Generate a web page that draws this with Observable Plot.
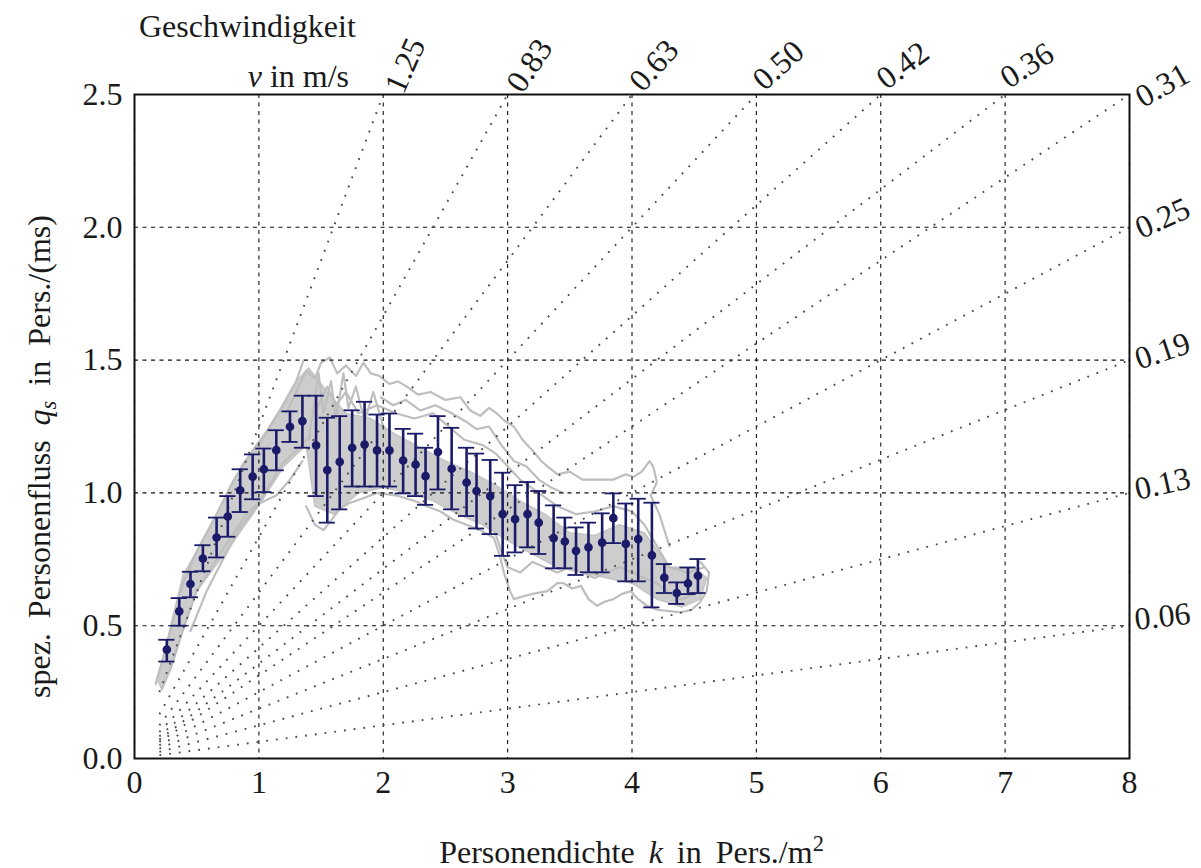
<!DOCTYPE html>
<html>
<head>
<meta charset="utf-8">
<script src="https://cdn.jsdelivr.net/npm/d3@7"></script>
<script src="https://cdn.jsdelivr.net/npm/@observablehq/plot@0.6"></script>
<style>
  html, body { margin: 0; padding: 0; background: #fff; }
  #chart svg { display: block; }
</style>
</head>
<body>
<div id="chart"></div>
<script>
// Binned means of specific flow with spread, per density class
const density = [0.26, 0.36, 0.45, 0.55, 0.66, 0.75, 0.85, 0.95, 1.04, 1.14, 1.25, 1.35, 1.46, 1.55, 1.65, 1.75, 1.85, 1.95, 2.05, 2.16, 2.26, 2.34, 2.44, 2.55, 2.67, 2.75, 2.86, 2.96, 3.06, 3.16, 3.25, 3.37, 3.46, 3.55, 3.65, 3.76, 3.85, 3.95, 4.05, 4.16, 4.26, 4.36, 4.45, 4.53];
const flowMean = [0.41, 0.554, 0.657, 0.753, 0.832, 0.911, 1.010, 1.061, 1.089, 1.161, 1.249, 1.270, 1.179, 1.086, 1.117, 1.170, 1.182, 1.160, 1.160, 1.122, 1.107, 1.063, 1.154, 1.091, 1.039, 1.007, 0.988, 0.920, 0.901, 0.920, 0.888, 0.830, 0.817, 0.782, 0.795, 0.813, 0.905, 0.808, 0.826, 0.765, 0.681, 0.623, 0.659, 0.688];
const flowHigh = [0.447, 0.604, 0.703, 0.803, 0.907, 0.988, 1.089, 1.145, 1.167, 1.236, 1.307, 1.366, 1.366, 1.283, 1.289, 1.311, 1.343, 1.295, 1.299, 1.241, 1.223, 1.170, 1.289, 1.245, 1.170, 1.148, 1.124, 1.076, 1.029, 1.041, 1.007, 0.953, 0.907, 0.870, 0.888, 0.923, 0.998, 0.960, 0.978, 0.963, 0.732, 0.663, 0.719, 0.751];
const flowLow = [0.365, 0.500, 0.607, 0.705, 0.757, 0.835, 0.928, 0.976, 1.003, 1.085, 1.192, 1.170, 0.988, 0.888, 0.938, 1.024, 1.024, 1.024, 1.024, 0.998, 0.988, 0.955, 1.013, 0.938, 0.913, 0.866, 0.845, 0.763, 0.776, 0.795, 0.770, 0.716, 0.716, 0.691, 0.701, 0.701, 0.811, 0.667, 0.667, 0.569, 0.623, 0.582, 0.619, 0.623];

// Individual measurement runs (k, q) shown as light grey traces
const denseCore = [[0.18,0.30],[0.25,0.42],[0.39,0.69],[0.55,0.82],[0.66,0.92],[0.87,1.11],[1.06,1.22],[1.20,1.33],[1.30,1.42],[1.40,1.47],[1.55,1.38],[1.70,1.30],[1.90,1.28],[2.10,1.22],[2.30,1.17],[2.50,1.12],[2.70,1.08],[2.90,1.03],[3.10,0.97],[3.30,0.92],[3.50,0.85],[3.70,0.84],[3.90,0.88],[4.10,0.85],[4.30,0.72],[4.50,0.72],[4.60,0.68],[4.55,0.60],[4.40,0.57],[4.20,0.60],[4.00,0.66],[3.80,0.68],[3.60,0.70],[3.40,0.72],[3.20,0.77],[3.00,0.82],[2.80,0.88],[2.60,0.92],[2.40,0.97],[2.20,1.00],[2.00,1.02],[1.80,1.00],[1.60,0.92],[1.45,0.95],[1.38,1.18],[1.20,1.10],[1.01,0.96],[0.77,0.80],[0.50,0.63],[0.30,0.36],[0.22,0.26]];
const traceUpper = [[1.22,1.30],[1.30,1.38],[1.38,1.46],[1.45,1.43],[1.50,1.49],[1.57,1.51],[1.63,1.45],[1.70,1.48],[1.78,1.44],[1.84,1.49],[1.90,1.45],[1.97,1.44],[2.05,1.41],[2.12,1.42],[2.19,1.40],[2.28,1.37],[2.38,1.38],[2.50,1.35],[2.62,1.36],[2.70,1.31],[2.78,1.29],[2.85,1.32],[2.91,1.30],[2.98,1.27],[3.05,1.25],[3.12,1.20],[3.20,1.16],[3.27,1.12],[3.32,1.10],[3.40,1.07],[3.50,1.08],[3.60,1.05],[3.72,1.05],[3.85,1.05],[3.95,1.07],[4.01,1.06],[4.08,1.08],[4.14,1.12],[4.17,1.10],[4.20,1.04],[4.15,0.99],[4.22,0.92],[4.30,0.80]];
const traceLower = [[1.38,0.95],[1.45,0.88],[1.52,0.86],[1.57,0.89],[1.65,0.94],[1.72,0.96],[1.84,0.98],[1.95,1.00],[2.11,0.99],[2.25,0.97],[2.35,0.95],[2.46,0.93],[2.56,0.90],[2.67,0.88],[2.78,0.86],[2.89,0.83],[2.94,0.76],[2.97,0.70],[3.02,0.63],[3.05,0.60],[3.12,0.61],[3.20,0.62],[3.32,0.63],[3.40,0.66],[3.45,0.66],[3.52,0.64],[3.59,0.65],[3.65,0.60],[3.72,0.575],[3.78,0.59],[3.85,0.60],[3.92,0.62],[3.99,0.63],[4.05,0.60],[4.12,0.575],[4.20,0.56],[4.30,0.555],[4.39,0.55],[4.48,0.56],[4.55,0.59],[4.60,0.63],[4.62,0.70],[4.55,0.74]];
const traceMiddle = [[1.45,1.30],[1.55,1.40],[1.62,1.33],[1.70,1.38],[1.80,1.30],[1.95,1.33],[2.10,1.30],[2.25,1.28],[2.40,1.30],[2.55,1.24],[2.65,1.20],[2.80,1.18],[2.90,1.15],[3.00,1.10],[3.10,1.05],[3.25,1.00],[3.40,0.95],[3.55,0.92],[3.70,0.93],[3.85,0.95],[4.00,0.93],[4.10,0.88],[4.20,0.80],[4.30,0.72],[4.45,0.70],[4.58,0.72]];
const traceSpikes = [[1.40,1.20],[1.45,1.35],[1.48,1.45],[1.52,1.30],[1.58,1.42],[1.62,1.28],[1.68,1.45],[1.72,1.32],[1.78,1.40],[1.85,1.27],[1.92,1.38],[2.00,1.25]];
const traceShelf = [[1.98,1.36],[2.08,1.33],[2.18,1.35],[2.30,1.31],[2.42,1.33],[2.55,1.30],[2.66,1.27],[2.75,1.24],[2.85,1.25],[2.95,1.18],[3.05,1.12],[3.15,1.10],[3.25,1.05],[3.35,1.02],[3.45,1.00]];
const traceLoop = [[2.90,0.85],[2.95,0.78],[3.00,0.72],[3.10,0.70],[3.20,0.74],[3.30,0.72],[3.40,0.70],[3.50,0.72],[3.60,0.70],[3.70,0.68],[3.80,0.70],[3.90,0.72],[4.00,0.70],[4.10,0.68],[4.20,0.66],[4.30,0.62],[4.40,0.60],[4.50,0.62]];
const traceRiseThin = [[0.45,0.48],[0.58,0.63],[0.70,0.74],[0.85,0.87],[1.00,0.96],[1.14,0.99],[1.25,1.05],[1.35,1.12]];
const traceRiseLeft = [[0.17,0.28],[0.22,0.36],[0.30,0.50],[0.39,0.66],[0.50,0.78],[0.66,0.92],[0.80,1.05],[0.95,1.16],[1.06,1.23],[1.18,1.32],[1.30,1.42],[1.36,1.50]];
const traceRiseRight = [[0.22,0.26],[0.30,0.35],[0.40,0.50],[0.50,0.63],[0.62,0.72],[0.77,0.83],[0.90,0.92],[1.01,0.97],[1.10,1.04],[1.19,1.11],[1.30,1.16],[1.38,1.20]];

// Constant-speed reference lines q = v * k: end points on the top and right frame edges
const speedTopEndK = [2, 3, 4, 5, 6, 7];
const speedTopLabels = ["1.25", "0.83", "0.63", "0.50", "0.42", "0.36"];
const speedRightEndQ = [2.5, 2.0, 1.5, 1.0, 0.5];
const speedRightLabels = ["0.31", "0.25", "0.19", "0.13", "0.06"];
const speedLineStartK = 0.2;

const xTicks = [0, 1, 2, 3, 4, 5, 6, 7, 8];
const yTicks = [0, 0.5, 1.0, 1.5, 2.0, 2.5];

const kMax = 8, qMax = 2.5;
const W = 1201, H = 868;
const mL = 134, mR = 72, mT = 94, mB = 110;
const FONT = "'Liberation Serif', 'Times New Roman', serif";
const FS = 32;
const INK = "#1a1a1a";
const BLUE = "#1b1b6a";
const labelTilt = 1.8; // tilt of the speed labels, as a slope factor

const bins = density.map((k, i) => ({k, q: flowMean[i], hi: flowHigh[i], lo: flowLow[i]}));
const toRows = (pts, id) => pts.map(([k, q]) => ({id, k, q}));
const traces = [
  ...toRows(traceUpper, "u"), ...toRows(traceLower, "l"), ...toRows(traceMiddle, "m"),
  ...toRows(traceSpikes, "s"), ...toRows(traceShelf, "h"),
  ...toRows(traceLoop, "o"), ...toRows(traceRiseThin, "t"), ...toRows(traceRiseLeft, "rl"),
  ...toRows(traceRiseRight, "rr")
];

const plotW = W - mL - mR, plotH = H - mT - mB;

const speedEnds = [
  ...speedTopEndK.map((k, i) => ({k, q: qMax, label: speedTopLabels[i], side: "top"})),
  ...speedRightEndQ.map((q, i) => ({k: kMax, q, label: speedRightLabels[i], side: "right"}))
];
speedEnds.forEach(e => {
  e.v = e.q / e.k;
  e.angle = -Math.atan(e.v * labelTilt) * 180 / Math.PI;
});
const speedRows = speedEnds.flatMap((e, i) => [
  {id: i, k: speedLineStartK, q: e.v * speedLineStartK},
  {id: i, k: e.k, q: e.q}
]);

const capHalf = 0.065;

const chart = Plot.plot({
  width: W, height: H,
  marginLeft: mL, marginRight: mR, marginTop: mT, marginBottom: mB,
  style: {fontFamily: FONT, fontSize: FS + "px", background: "#fff", color: INK, overflow: "visible"},
  x: {domain: [0, kMax]},
  y: {domain: [0, qMax]},
  marks: [
    Plot.line(denseCore.map(([k, q]) => ({k, q})), {x: "k", y: "q", fill: "#cdcdcd", stroke: "#c4c4c4", strokeWidth: 1.5, curve: "linear-closed"}),
    Plot.line(traces, {x: "k", y: "q", z: "id", stroke: "#bebebe", strokeWidth: 2.2, curve: "linear"}),
    Plot.gridX(xTicks, {stroke: "#111", strokeOpacity: 1, strokeWidth: 1.1, strokeDasharray: "4,4.5"}),
    Plot.gridY(yTicks, {stroke: "#111", strokeOpacity: 1, strokeWidth: 1.1, strokeDasharray: "4,4.5"}),
    Plot.line(speedRows, {x: "k", y: "q", z: "id", stroke: "#4a4a4a", strokeWidth: 1.9, strokeDasharray: "1.8,8", strokeLinecap: "butt"}),
    Plot.ruleX(bins, {x: "k", y1: "lo", y2: "hi", stroke: BLUE, strokeWidth: 2.6}),
    Plot.ruleY(bins, {y: "hi", x1: d => d.k - capHalf, x2: d => d.k + capHalf, stroke: BLUE, strokeWidth: 1.8}),
    Plot.ruleY(bins, {y: "lo", x1: d => d.k - capHalf, x2: d => d.k + capHalf, stroke: BLUE, strokeWidth: 1.8}),
    Plot.dot(bins, {x: "k", y: "q", r: 3.6, fill: BLUE, stroke: BLUE}),
    Plot.frame({stroke: "#111", strokeWidth: 2}),
    Plot.axisX(xTicks, {tickSize: 0, tickPadding: 12, label: null, fontSize: FS, tickFormat: d3.format("d")}),
    Plot.axisY(yTicks, {tickSize: 0, tickPadding: 12, label: null, fontSize: FS, tickFormat: d3.format(".1f")}),
    Plot.text(speedEnds.filter(e => e.side === "top"), {x: "k", y: "q", text: "label", rotate: "angle", dx: 22, dy: -29, fontSize: FS, textAnchor: "middle", lineAnchor: "middle", fill: INK}),
    Plot.text(speedEnds.filter(e => e.side === "right"), {x: "k", y: "q", text: "label", rotate: "angle", dx: 33, dy: -9, fontSize: FS, textAnchor: "middle", lineAnchor: "middle", fill: INK})
  ]
});

document.getElementById("chart").appendChild(chart);

// Axis titles with italic symbols, sub- and superscripts
const svg = d3.select(chart);
const addText = (x, y, anchor, rotate) => {
  const t = svg.append("text")
    .attr("x", x).attr("y", y)
    .attr("text-anchor", anchor)
    .attr("font-family", FONT)
    .attr("font-size", FS)
    .attr("fill", INK);
  if (rotate) t.attr("transform", `rotate(${rotate},${x},${y})`);
  return t;
};

// vertical title runs upward from just above the bottom of the frame
const yl = addText(50, mT + plotH - 60, "start", -90).attr("word-spacing", 7);
yl.append("tspan").text("spez. Personenfluss ");
yl.append("tspan").attr("font-style", "italic").text("q");
yl.append("tspan").attr("font-style", "italic").attr("font-size", FS * 0.7).attr("dy", 6).text("s");
yl.append("tspan").attr("dy", -6).text(" in Pers./(ms)");

const xl = addText(mL + plotW / 2, 863, "middle").attr("word-spacing", 6);
xl.append("tspan").text("Personendichte ");
xl.append("tspan").attr("font-style", "italic").text("k");
xl.append("tspan").text(" in Pers./m");
xl.append("tspan").attr("font-size", FS * 0.7).attr("dy", -12).text("2");

addText(139, 37, "start").text("Geschwindigkeit");
const vl = addText(349, 87, "end");
vl.append("tspan").attr("font-style", "italic").text("v");
vl.append("tspan").text(" in m/s");
</script>
</body>
</html>
